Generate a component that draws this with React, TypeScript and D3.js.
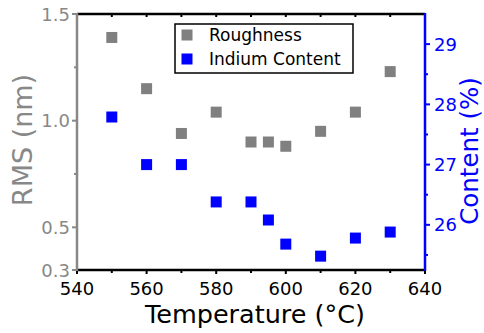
import React from "react";
import * as d3 from "d3";

const temperatures = [550, 560, 570, 580, 590, 595, 600, 610, 620, 630];
const roughness = [1.39, 1.15, 0.94, 1.04, 0.9, 0.9, 0.88, 0.95, 1.04, 1.23];
const indium = [27.79, 27.0, 27.0, 26.38, 26.38, 26.08, 25.68, 25.48, 25.78, 25.88];
const xTicks = [540, 560, 580, 600, 620, 640];
const xMinor = [550, 570, 590, 610, 630];
const leftTicks = [0.3, 0.5, 1.0, 1.5];
const leftMinor = [0.75, 1.25];
const rightTicks = [26, 27, 28, 29];
const rightMinor = [25.5, 26.5, 27.5, 28.5];
const legendItems = ["Roughness", "Indium Content"];

const W = 484, H = 333;
const M = { left: 77, right: 425, top: 14, bottom: 270 };
const GRAY = "#888888";
const BLUE = "#0000ff";
const FONT = "DejaVu Sans, Verdana, sans-serif";

export default function App() {
  const x = d3.scaleLinear().domain([540, 640]).range([M.left, M.right]);
  const yL = d3.scaleLinear().domain([0.3, 1.5]).range([M.bottom, M.top]);
  const yR = d3.scaleLinear().domain([25.25, 29.5]).range([M.bottom, M.top]);
  const s = 11;
  const allX = d3.range(540, 641, 10);
  return (
    <svg width={W} height={H} style={{ position: "absolute", left: 0, top: 0, background: "#fff" }}
      fontFamily={FONT}>
      {temperatures.map((t, i) => (
        <rect key={"r" + i} x={x(t) - s / 2} y={yL(roughness[i]) - s / 2} width={s} height={s} fill="#808080" />
      ))}
      {temperatures.map((t, i) => (
        <rect key={"b" + i} x={x(t) - s / 2} y={yR(indium[i]) - s / 2} width={s} height={s} fill={BLUE} />
      ))}
      <line x1={M.left} x2={M.right} y1={M.top} y2={M.top} stroke="#000" strokeWidth={2.5} />
      {allX.slice(1, -1).map((t) => (
        <line key={"tt" + t} x1={x(t)} x2={x(t)} y1={M.top} y2={M.top + 3} stroke="#000" strokeWidth={2} />
      ))}
      <line x1={M.left} x2={M.right} y1={M.bottom} y2={M.bottom} stroke="#000" strokeWidth={2.5} />
      {xTicks.map((t) => (
        <g key={"bx" + t}>
          <line x1={x(t)} x2={x(t)} y1={M.bottom} y2={M.bottom + 4} stroke="#000" strokeWidth={2} />
          <text x={x(t)} y={295} fontSize={18} textAnchor="middle" fill="#000">{t}</text>
        </g>
      ))}
      {xMinor.map((t) => (
        <line key={"bm" + t} x1={x(t)} x2={x(t)} y1={M.bottom} y2={M.bottom + 3} stroke="#000" strokeWidth={2} />
      ))}
      <text x={(M.left + M.right) / 2 + 4} y={323} fontSize={25.5} textAnchor="middle" fill="#000">Temperature (°C)</text>
      <line x1={M.left} x2={M.left} y1={M.top - 1} y2={M.bottom + 1} stroke={GRAY} strokeWidth={2.5} />
      {leftTicks.map((t) => (
        <g key={"l" + t}>
          <line x1={M.left - 5} x2={M.left} y1={yL(t)} y2={yL(t)} stroke={GRAY} strokeWidth={2} />
          <text x={M.left - 7} y={yL(t) + 6.5} fontSize={18} textAnchor="end" fill={GRAY}>{t.toFixed(1)}</text>
        </g>
      ))}
      {leftMinor.map((t) => (
        <line key={"lm" + t} x1={M.left - 3} x2={M.left} y1={yL(t)} y2={yL(t)} stroke={GRAY} strokeWidth={2} />
      ))}
      <text transform={`translate(32,140) rotate(-90)`} fontSize={27}
        textAnchor="middle" fill={GRAY}>RMS (nm)</text>
      <line x1={M.right} x2={M.right} y1={M.top - 1} y2={M.bottom + 1} stroke={BLUE} strokeWidth={2.5} />
      {rightTicks.map((t) => (
        <g key={"r" + t}>
          <line x1={M.right} x2={M.right + 5} y1={yR(t)} y2={yR(t)} stroke={BLUE} strokeWidth={2} />
          <text x={M.right + 9} y={yR(t) + 6.5} fontSize={18} textAnchor="start" fill={BLUE}>{t}</text>
        </g>
      ))}
      {rightMinor.map((t) => (
        <line key={"rm" + t} x1={M.right} x2={M.right + 3} y1={yR(t)} y2={yR(t)} stroke={BLUE} strokeWidth={2} />
      ))}
      <text transform={`translate(478,151) rotate(-90)`} fontSize={24.5}
        textAnchor="middle" fill={BLUE}>Content (%)</text>
      <rect x={175} y={24} width={178} height={49} fill="#fff" stroke="#000" strokeWidth={1.5} />
      {legendItems.map((name, i) => (
        <g key={name}>
          <rect x={187 - 5.5} y={35 + i * 24 - 5.5} width={s} height={s} fill={i === 0 ? "#808080" : BLUE} />
          <text x={209} y={35 + i * 24 + 6} fontSize={17} fill="#000">{name}</text>
        </g>
      ))}
    </svg>
  );
}
